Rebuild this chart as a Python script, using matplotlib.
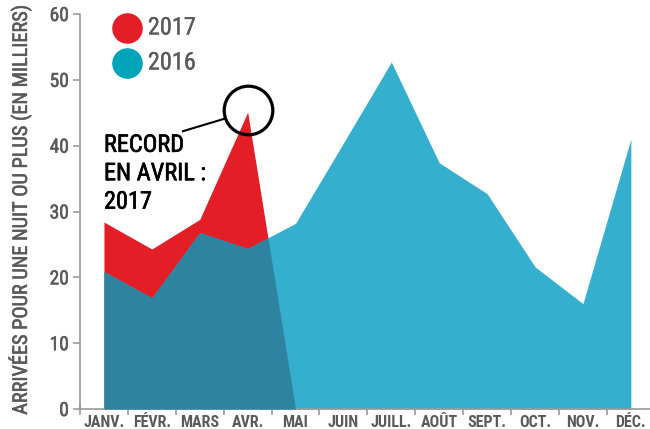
import numpy as np
import matplotlib
matplotlib.use("Agg")
import matplotlib.pyplot as plt
import matplotlib.patheffects as pe

months = ["JANV.", "FÉVR.", "MARS", "AVR.", "MAI", "JUIN", "JUILL.", "AOÛT",
          "SEPT.", "OCT.", "NOV.", "DÉC."]
v2016 = [20.9, 16.9, 26.8, 24.4, 28.2, 40.4, 52.7, 37.4, 32.7, 21.6, 16.0, 41.0]
v2017 = [28.4, 24.3, 28.8, 45.1, 0.0]

RED = "#e31e26"
TEAL = "#34afce"
DARK = "#2e84a0"
GRAY = "#5a5a5a"
AXC = "#9a9a9a"

FONT = ["Roboto Condensed", "DejaVu Sans"]
plt.rcParams['font.family'] = FONT

fig = plt.figure(figsize=(6.5, 4.29), dpi=100)
ax = fig.add_axes([80/650, 20/429, 570/650, 395/429])

x16 = np.arange(len(v2016))
x17 = np.arange(len(v2017))
ax.fill_between(x17, v2017, 0, color=RED, lw=0, zorder=1)
ax.fill_between(x16, v2016, 0, color=TEAL, lw=0, zorder=2)
xd = np.linspace(0, len(v2017) - 1, 801)
ov = np.minimum(np.interp(xd, x16, v2016), np.interp(xd, x17, v2017))
ax.fill_between(xd, ov, 0, color=DARK, lw=0, zorder=3)

ax.set_xlim(-0.48, 11.4)
ax.set_ylim(0, 60)

for s in ["top", "right"]:
    ax.spines[s].set_visible(False)
for s in ["left", "bottom"]:
    ax.spines[s].set_color(AXC)
    ax.spines[s].set_linewidth(1.2)

gray_fx = [pe.withStroke(linewidth=0.4, foreground=GRAY)]
leg_fx = [pe.withStroke(linewidth=0.2, foreground=GRAY)]
blk_fx = [pe.withStroke(linewidth=0.45, foreground='black')]

ax.set_yticks(np.arange(0, 61, 10))
ax.tick_params(axis='y', colors=AXC, length=5, width=1.2, pad=3,
               labelcolor=GRAY, labelsize=14)
for t in ax.get_yticklabels():
    t.set_path_effects(gray_fx)

ax.set_xticks(x16)
ax.set_xticklabels(months, fontsize=11.5, fontweight='bold', color=GRAY)
ax.tick_params(axis='x', which='major', length=0, pad=4)
ax.set_xticks(np.arange(-0.5, 11.0, 1.0), minor=True)
ax.tick_params(axis='x', which='minor', direction='inout', length=8,
               width=1.2, colors=AXC)

fig.text(20/650, 1 - 211/429, "ARRIVÉES POUR UNE NUIT OU PLUS (EN MILLIERS)",
         rotation=90, ha='center', va='center', fontsize=14.6,
         color=GRAY, path_effects=gray_fx)

# legend
ax.plot([0.0825], [0.9646], 'o', ms=21, color=RED, transform=ax.transAxes,
        clip_on=False, zorder=5)
ax.plot([0.0825], [0.876], 'o', ms=21, color="#00a3b8", transform=ax.transAxes,
        clip_on=False, zorder=5)
ax.text(0.119, 0.9646, "2017", transform=ax.transAxes, va='center', ha='left',
        fontsize=17.5, color=GRAY, path_effects=leg_fx)
ax.text(0.119, 0.876, "2016", transform=ax.transAxes, va='center', ha='left',
        fontsize=17.5, color=GRAY, path_effects=leg_fx)

# annotation
ax.plot([3.0], [45.4], 'o', ms=35, mfc='none', mec='black', mew=2.3, zorder=6)
ax.plot([1.65, 2.52], [42.2, 44.1], color='black', lw=1.5, zorder=6)
ax.text(0.0, 41.8, "RECORD\nEN AVRIL :\n2017", ha='left', va='top',
        fontsize=17.5, color='black', linespacing=1.3, zorder=6,
        path_effects=blk_fx)

fig.savefig("out.png", dpi=100)
